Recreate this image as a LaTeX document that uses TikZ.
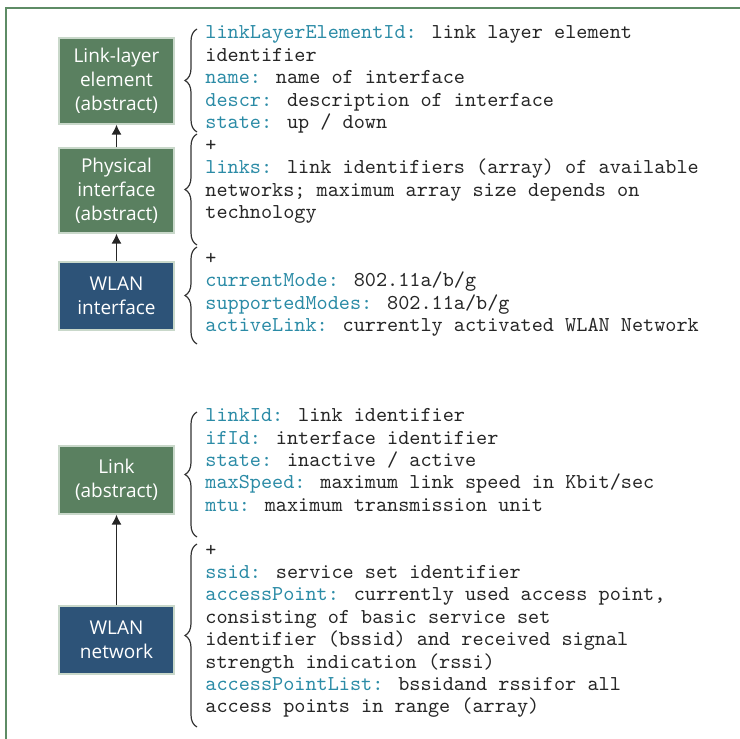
\documentclass[tikz,border=0pt]{standalone}
\usepackage{fontspec}
\setsansfont{Open Sans}
\usetikzlibrary{arrows.meta,decorations.pathreplacing}

\definecolor{framegreen}{HTML}{5E8C65}
\definecolor{boxgreen}{HTML}{5A8060}
\definecolor{boxblue}{HTML}{2D5378}
\definecolor{boxedge}{HTML}{C9D8CA}
\definecolor{fieldcol}{HTML}{2B8BA6}
\newcommand{\fld}[1]{\textcolor{fieldcol}{#1}}

\tikzset{
  objbox/.style={draw=boxedge, line width=0.6pt, text=white, align=center,
    font=\sffamily\fontsize{9.5}{12}\selectfont, minimum width=57.5pt, inner sep=0pt},
  absbox/.style={objbox, fill=boxgreen},
  wlanbox/.style={objbox, fill=boxblue},
  attr/.style={anchor=base west, inner sep=0pt, text=black!85,
    font=\ttfamily\fontsize{10.6}{11.3}\selectfont},
  brace/.style={decorate, decoration={brace, amplitude=6pt}, draw=black!80, line width=0.6pt},
  inherit/.style={-{Latex[length=5pt,width=5pt]}, draw=black!85, line width=0.7pt}
}

\begin{document}
\begin{tikzpicture}[x=0.5pt,y=-0.5pt]
\useasboundingbox (0,0) rectangle (740,739);
\draw[framegreen, line width=0.8pt] (6,739) -- (6,8) -- (740,8);

% interface classes
\node[absbox, minimum height=43pt] (lle) at (116.5,81) {Link-layer\\element\\(abstract)};
\node[absbox, minimum height=42.5pt] (phy) at (116.5,190.5) {Physical\\interface\\(abstract)};
\node[wlanbox, minimum height=34pt] (wif) at (116.5,296) {WLAN\\interface};
\draw[inherit] (phy) -- (lle);
\draw[inherit] (wif) -- (phy);

% link classes
\node[absbox, minimum height=34pt] (lnk) at (116.5,480) {Link\\(abstract)};
\node[wlanbox, minimum height=34pt] (wnet) at (116.5,640) {WLAN\\network};
\draw[inherit] (wnet) -- (lnk);

% braces
\draw[brace] (197,132) -- (197,29);
\draw[brace] (197,245) -- (197,134);
\draw[brace] (197,344) -- (197,247);
\draw[brace] (197,537) -- (197,412);
\draw[brace] (197,727) -- (197,544);

% attributes of the interface
\foreach \t [count=\i from 0] in {
    {\fld{linkLayerElementId:} link layer element},
    {identifier},
    {\fld{name:} name of interface},
    {\fld{descr:} description of interface},
    {\fld{state:} up / down},
    {+},
    {\fld{links:} link identifiers (array) of available},
    {networks; maximum array size depends on},
    {technology},
    {},
    {+},
    {\fld{currentMode:} 802.11a/b/g},
    {\fld{supportedModes:} 802.11a/b/g},
    {\fld{activeLink:} currently activated WLAN Network}} {
    \node[attr] (ia\i) at (205,38.5+22.55*\i) {\t};
}

% attributes of the link
\foreach \t [count=\i from 0] in {
    {\fld{linkId:} link identifier},
    {\fld{ifId:} interface identifier},
    {\fld{state:} inactive / active},
    {\fld{maxSpeed:} maximum link speed in Kbit/sec},
    {\fld{mtu:} maximum transmission unit},
    {},
    {+},
    {\fld{ssid:} service set identifier},
    {\fld{accessPoint:} currently used access point,},
    {consisting of basic service set},
    {identifier (bssid) and received signal},
    {strength indication (rssi)},
    {\fld{accessPointList:} bssidand rssifor all},
    {access points in range (array)}} {
    \node[attr] (la\i) at (205,421.7+22.4*\i) {\t};
}
\end{tikzpicture}
\end{document}
